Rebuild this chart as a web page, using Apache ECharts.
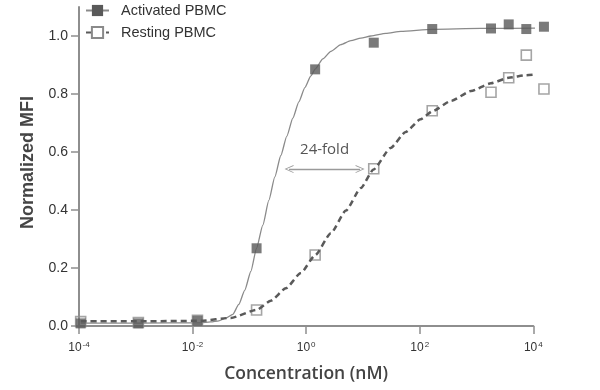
<!DOCTYPE html>
<html>
<head>
<meta charset="utf-8">
<script src="https://cdn.jsdelivr.net/npm/echarts@6/dist/echarts.min.js"></script>
<style>html,body{margin:0;padding:0;background:#fff;}#c{width:600px;height:390px;}</style>
</head>
<body>
<div id="c"></div>
<script>
// Measured concentrations (nM) as placed in the figure
const conc = [1.07e-4, 1.11e-3, 1.22e-2, 0.134, 1.44, 15.5, 166, 1800, 3690, 7530, 15400];
const activatedMFI = [0.009, 0.009, 0.018, 0.268, 0.885, 0.977, 1.024, 1.026, 1.040, 1.024, 1.032];
const restingMFI = [0.015, 0.012, 0.020, 0.055, 0.245, 0.542, 0.742, 0.806, 0.856, 0.934, 0.817];

// Fitted curves
const actCurveX = [1.07e-4, 1.22e-3, 0.01394, 0.02092, 0.02895, 0.03846, 0.0511, 0.06518, 0.08313, 0.1061, 0.1337, 0.1726, 0.2202, 0.2809, 0.3583, 0.457, 0.583, 0.7437, 0.9487, 1.21, 1.44, 1.969, 2.724, 4.087, 6.133, 9.203, 13.81, 25.37, 46.63, 164, 1198, 15400];
const actCurveY = [0.010, 0.010, 0.011, 0.014, 0.018, 0.027, 0.040, 0.0745, 0.124, 0.188, 0.268, 0.348, 0.433, 0.514, 0.588, 0.655, 0.717, 0.773, 0.822, 0.862, 0.886, 0.921, 0.947, 0.970, 0.984, 0.993, 1.000, 1.009, 1.016, 1.023, 1.026, 1.027];
const restCurveX = [1.07e-4, 1.22e-3, 0.01394, 0.0471, 0.1353, 0.2386, 0.4389, 0.8064, 1.441, 2.724, 5.006, 9.203, 15.40, 30.71, 56.43, 103.7, 168.8, 354.6, 798.4, 1797, 3686, 7435, 15440];
const restCurveY = [0.016, 0.016, 0.018, 0.028, 0.056, 0.087, 0.130, 0.183, 0.244, 0.320, 0.398, 0.476, 0.540, 0.614, 0.669, 0.713, 0.741, 0.776, 0.810, 0.837, 0.856, 0.865, 0.871];

// Annotation (fold-shift arrow)
const foldArrowX = [0.50, 8.9];
const foldArrowY = 0.541;
const foldLabel = '24-fold';

const yTicks = [0, 0.2, 0.4, 0.6, 0.8, 1.0];
const seriesNames = ['Activated PBMC', 'Resting PBMC'];

const zip = (xs, ys) => xs.map((x, i) => [x, ys[i]]);
const chevron = 'path://M5,0 L10,10 L8.8,10 L5,2.2 L1.2,10 L0,10 Z';

const chart = echarts.init(document.getElementById('c'), null, {renderer: 'canvas'});
chart.setOption({
  animation: false,
  backgroundColor: '#fff',
  grid: {left: 79, right: 66.7, top: 7, bottom: 64},
  legend: {
    data: seriesNames,
    orient: 'vertical',
    left: 80, top: -2,
    itemWidth: 23, itemHeight: 14, itemGap: 7,
    textStyle: {fontFamily: 'Liberation Sans', fontSize: 14.5, color: '#333', padding: [0, 0, 0, 7]}
  },
  xAxis: {
    type: 'log', logBase: 100, min: 1e-4, max: 1e4, interval: 1,
    name: 'Concentration (nM)', nameLocation: 'middle', nameGap: 39,
    nameTextStyle: {fontFamily: 'Open Sans', fontWeight: 600, fontSize: 17.5, color: '#444'},
    axisLine: {lineStyle: {color: '#8e8e8e', width: 2}},
    axisTick: {show: true, length: 8, lineStyle: {color: '#8e8e8e', width: 1.5}},
    splitLine: {show: false},
    minorTick: {show: false},
    axisLabel: {
      margin: 15,
      formatter: v => '{a|10}{b|' + Math.round(Math.log10(v)) + '}',
      rich: {
        a: {fontFamily: 'Liberation Sans', fontSize: 12, color: '#333', lineHeight: 14},
        b: {fontFamily: 'Liberation Sans', fontSize: 8, color: '#333', verticalAlign: 'top', lineHeight: 14, padding: [0, 0, 5, 1]}
      }
    }
  },
  yAxis: {
    type: 'value', min: 0, max: 1.1,
    name: 'Normalized MFI', nameLocation: 'middle', nameGap: 42, nameRotate: 90,
    nameTextStyle: {fontFamily: 'Liberation Sans', fontWeight: 'bold', fontSize: 18, color: '#454545', padding: [0, 0, 0, 8]},
    axisLine: {show: true, lineStyle: {color: '#8e8e8e', width: 2}},
    axisTick: {show: true, length: 8, customValues: yTicks, lineStyle: {color: '#8e8e8e', width: 1.5}},
    splitLine: {show: false},
    axisLabel: {
      customValues: yTicks, margin: 11,
      fontFamily: 'Liberation Sans', fontSize: 14, color: '#333',
      formatter: v => Number(v).toFixed(1)
    }
  },
  series: [
    {
      name: 'Activated points', type: 'scatter', clip: false, silent: true,
      symbol: 'rect', symbolSize: 10,
      itemStyle: {color: '#595959'},
      data: zip(conc, activatedMFI), z: 3
    },
    {
      name: 'Resting points', type: 'scatter', clip: false, silent: true,
      symbol: 'rect', symbolSize: 10,
      itemStyle: {color: 'rgba(255,255,255,0)', borderColor: '#8e8e8e', borderWidth: 1.6},
      data: zip(conc, restingMFI), z: 2
    },
    {
      name: seriesNames[0], type: 'line', clip: false, smooth: 0.2, smoothMonotone: 'x',
      showSymbol: false, symbol: 'rect', symbolSize: 9,
      itemStyle: {color: '#595959'},
      lineStyle: {color: '#8a8a8a', width: 1.3},
      data: zip(actCurveX, actCurveY), z: 2
    },
    {
      name: seriesNames[1], type: 'line', clip: false, smooth: 0.2, smoothMonotone: 'x',
      showSymbol: false, symbol: 'rect', symbolSize: 9,
      itemStyle: {color: '#fff', borderColor: '#8a8a8a', borderWidth: 1.4},
      lineStyle: {color: '#5a5a5a', width: 2.5, type: [6, 4]},
      data: zip(restCurveX, restCurveY), z: 4
    },
    {
      name: 'annotation', type: 'line', data: [], silent: true,
      markLine: {
        silent: true, animation: false,
        symbol: [chevron, chevron], symbolSize: [8, 9],
        lineStyle: {color: '#9a9a9a', width: 1.3, type: 'solid'},
        label: {
          show: true, position: 'middle', formatter: foldLabel, distance: 12,
          fontFamily: 'Open Sans', fontSize: 15, color: '#555'
        },
        data: [[{coord: [foldArrowX[0], foldArrowY]}, {coord: [foldArrowX[1], foldArrowY]}]]
      }
    }
  ]
});
</script>
</body>
</html>
